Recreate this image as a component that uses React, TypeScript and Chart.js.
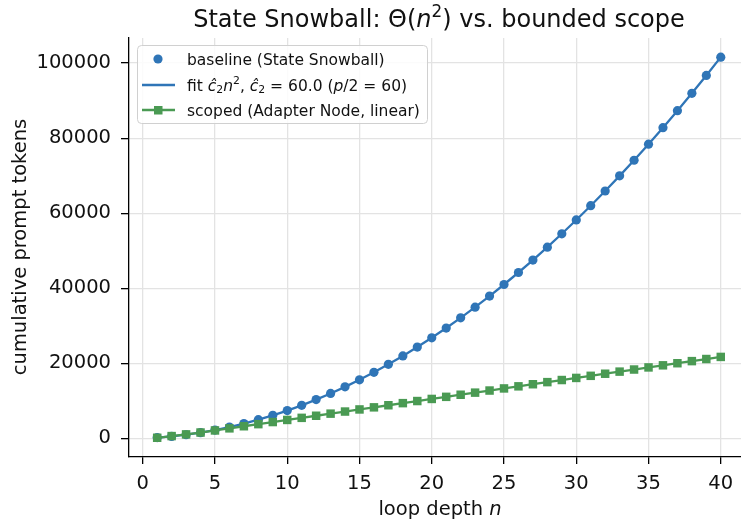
import { useEffect, useRef } from "react";
import { Chart, registerables } from "chart.js";

Chart.register(...registerables);

const depths = [1, 2, 3, 4, 5, 6, 7, 8, 9, 10, 11, 12, 13, 14, 15, 16, 17, 18, 19, 20, 21, 22, 23, 24, 25, 26, 27, 28, 29, 30, 31, 32, 33, 34, 35, 36, 37, 38, 39, 40];

const baselineTokens = [200, 520, 960, 1520, 2200, 3000, 3920, 4960, 6120, 7400, 8800, 10320, 11960, 13720, 15600, 17600, 19720, 21960, 24320, 26800, 29400, 32120, 34960, 37920, 41000, 44200, 47520, 50960, 54520, 58200, 62000, 65920, 69960, 74120, 78400, 82800, 87320, 91960, 96720, 101600];

const fitTokens = [200, 520, 960, 1520, 2200, 3000, 3920, 4960, 6120, 7400, 8800, 10320, 11960, 13720, 15600, 17600, 19720, 21960, 24320, 26800, 29400, 32120, 34960, 37920, 41000, 44200, 47520, 50960, 54520, 58200, 62000, 65920, 69960, 74120, 78400, 82800, 87320, 91960, 96720, 101600];

const scopedTokens = [150, 600, 1050, 1550, 2100, 2660, 3220, 3780, 4340, 4900, 5460, 6020, 6580, 7140, 7700, 8260, 8820, 9380, 9940, 10500, 11060, 11620, 12180, 12740, 13300, 13860, 14420, 14980, 15540, 16100, 16660, 17220, 17780, 18340, 18900, 19460, 20020, 20580, 21140, 21700];

const xTickValues = [0, 5, 10, 15, 20, 25, 30, 35, 40];
const yTickValues = [0, 20000, 40000, 60000, 80000, 100000];

const BLUE = "#2f75b7";
const GREEN = "#4a9a53";
const FONT = "DejaVu Sans";

type Part = { t: string; i?: boolean; sup?: boolean; sub?: boolean };

const titleParts: Part[] = [
  { t: "State Snowball: Θ(" },
  { t: "n", i: true },
  { t: "2", sup: true },
  { t: ") vs. bounded scope" },
];
const xTitleParts: Part[] = [{ t: "loop depth " }, { t: "n", i: true }];
const yTitle = "cumulative prompt tokens";
const legendRows: Part[][] = [
  [{ t: "baseline (State Snowball)" }],
  [
    { t: "fit " },
    { t: "ĉ", i: true },
    { t: "2", sub: true },
    { t: "n", i: true },
    { t: "2", sup: true },
    { t: ", " },
    { t: "ĉ", i: true },
    { t: "2", sub: true },
    { t: " = 60.0 (" },
    { t: "p", i: true },
    { t: "/2 = 60)" },
  ],
  [{ t: "scoped (Adapter Node, linear)" }],
];

function partFont(p: Part, size: number) {
  const s = p.sup || p.sub ? size * 0.7 : size;
  return `${p.i ? "oblique " : ""}${s}px "${FONT}"`;
}

function drawRich(ctx: CanvasRenderingContext2D, parts: Part[], x: number, y: number, size: number, align: "left" | "center") {
  ctx.save();
  ctx.textBaseline = "alphabetic";
  ctx.textAlign = "left";
  let total = 0;
  for (const p of parts) {
    ctx.font = partFont(p, size);
    total += ctx.measureText(p.t).width;
  }
  let cx = align === "center" ? x - total / 2 : x;
  for (const p of parts) {
    ctx.font = partFont(p, size);
    const dy = p.sup ? -size * 0.42 : p.sub ? size * 0.18 : 0;
    ctx.fillText(p.t, cx, y + dy);
    cx += ctx.measureText(p.t).width;
  }
  ctx.restore();
}

const textPlugin = {
  id: "textPlugin",
  afterDraw(chart: any) {
    const ctx: CanvasRenderingContext2D = chart.ctx;
    ctx.save();
    ctx.fillStyle = "#111";
    drawRich(ctx, titleParts, 439, 27, 24, "center");
    drawRich(ctx, xTitleParts, 440, 515, 19.5, "center");
    ctx.save();
    ctx.translate(21, 247);
    ctx.rotate(-Math.PI / 2);
    ctx.font = `19.5px "${FONT}"`;
    ctx.textAlign = "center";
    ctx.textBaseline = "middle";
    ctx.fillText(yTitle, 0, 0);
    ctx.restore();

    // legend
    const bx = 137.5, by = 45.5, bw = 290, bh = 78, r = 4;
    ctx.beginPath();
    ctx.moveTo(bx + r, by);
    ctx.lineTo(bx + bw - r, by);
    ctx.arcTo(bx + bw, by, bx + bw, by + r, r);
    ctx.lineTo(bx + bw, by + bh - r);
    ctx.arcTo(bx + bw, by + bh, bx + bw - r, by + bh, r);
    ctx.lineTo(bx + r, by + bh);
    ctx.arcTo(bx, by + bh, bx, by + bh - r, r);
    ctx.lineTo(bx, by + r);
    ctx.arcTo(bx, by, bx + r, by, r);
    ctx.closePath();
    ctx.fillStyle = "rgba(255,255,255,0.85)";
    ctx.fill();
    ctx.strokeStyle = "#d0d0d0";
    ctx.lineWidth = 1;
    ctx.stroke();

    const rows = [59, 85, 110];
    ctx.fillStyle = BLUE;
    ctx.beginPath();
    ctx.arc(158, rows[0], 4.6, 0, Math.PI * 2);
    ctx.fill();
    ctx.strokeStyle = BLUE;
    ctx.lineWidth = 2.3;
    ctx.beginPath();
    ctx.moveTo(142, rows[1]);
    ctx.lineTo(175, rows[1]);
    ctx.stroke();
    ctx.strokeStyle = GREEN;
    ctx.beginPath();
    ctx.moveTo(142, rows[2]);
    ctx.lineTo(175, rows[2]);
    ctx.stroke();
    ctx.fillStyle = GREEN;
    ctx.fillRect(154, rows[2] - 4, 8.5, 8.5);

    ctx.fillStyle = "#111";
    legendRows.forEach((row, k) => drawRich(ctx, row, 187, rows[k] + 5.5, 15.5, "left"));
    ctx.restore();
  },
};

export default function App() {
  const ref = useRef<HTMLCanvasElement | null>(null);
  useEffect(() => {
    if (!ref.current) return;
    const toXY = (ys: number[]) => depths.map((d, k) => ({ x: d, y: ys[k] }));
    const chart = new Chart(ref.current, {
      type: "line",
      data: {
        datasets: [
          {
            label: "baseline (State Snowball)",
            data: toXY(baselineTokens),
            showLine: false,
            borderColor: BLUE,
            backgroundColor: BLUE,
            pointRadius: 4.6,
            pointBorderWidth: 0,
            pointStyle: "circle",
            order: 2,
          },
          {
            label: "fit",
            data: toXY(fitTokens),
            borderColor: BLUE,
            backgroundColor: BLUE,
            borderWidth: 2.3,
            pointRadius: 0,
            tension: 0,
            order: 3,
          },
          {
            label: "scoped (Adapter Node, linear)",
            data: toXY(scopedTokens),
            borderColor: GREEN,
            backgroundColor: GREEN,
            borderWidth: 2.3,
            pointRadius: 6,
            pointBorderWidth: 0,
            pointStyle: "rect",
            tension: 0,
            order: 1,
          },
        ],
      },
      options: {
        animation: false,
        responsive: false,
        devicePixelRatio: 1,
        layout: { autoPadding: false, padding: { top: 38, right: 0, left: 0, bottom: 0 } },
        plugins: {
          legend: { display: false },
          title: { display: false },
          tooltip: { enabled: false },
        },
        scales: {
          x: {
            type: "linear",
            min: -0.95,
            max: 41.4,
            afterBuildTicks: (s: any) => {
              s.ticks = xTickValues.map((v) => ({ value: v }));
            },
            afterFit: (s: any) => {
              s.height = 64;
              s.paddingLeft = 0;
              s.paddingRight = 0;
            },
            grid: { color: "#e3e3e3", lineWidth: 1.3, tickColor: "#000", tickLength: 7, tickWidth: 1.3 },
            border: { display: true, color: "#000", width: 1.3 },
            ticks: {
              color: "#111",
              font: { family: FONT, size: 19.5 },
              padding: 8,
              maxRotation: 0,
              autoSkip: false,
              callback: (v: any) => String(v),
            },
          },
          y: {
            type: "linear",
            min: -4975,
            max: 106700,
            afterBuildTicks: (s: any) => {
              s.ticks = yTickValues.map((v) => ({ value: v }));
            },
            afterFit: (s: any) => {
              s.width = 129;
              s.paddingTop = 0;
              s.paddingBottom = 0;
            },
            grid: { color: "#e3e3e3", lineWidth: 1.3, tickColor: "#000", tickLength: 8, tickWidth: 1.3 },
            border: { display: true, color: "#000", width: 1.3 },
            ticks: {
              color: "#111",
              font: { family: FONT, size: 19.5 },
              padding: 10,
              autoSkip: false,
              callback: (v: any) => String(v),
            },
          },
        },
      },
      plugins: [textPlugin],
    } as any);
    return () => chart.destroy();
  }, []);
  return (
    <div style={{ position: "absolute", left: 0, top: 0, width: 741, height: 521, background: "#fff" }}>
      <canvas ref={ref} width={741} height={521} />
    </div>
  );
}
